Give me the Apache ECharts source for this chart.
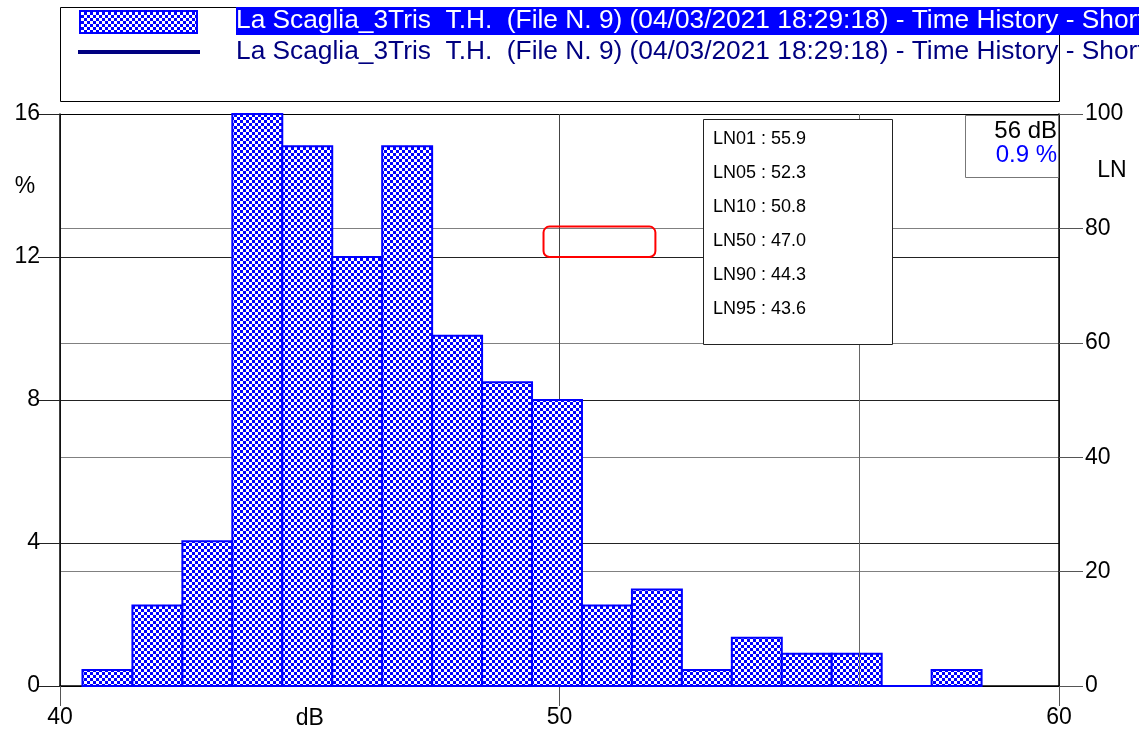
<!DOCTYPE html>
<html>
<head>
<meta charset="utf-8">
<script src="https://cdn.jsdelivr.net/npm/echarts@6/dist/echarts.min.js"></script>
<style>
  html, body { margin: 0; padding: 0; background: #fff; }
  #chart { width: 1139px; height: 731px; }
</style>
</head>
<body>
<div id="chart"></div>
<script>
// Level distribution (histogram of short Leq values, 1 dB classes)
const seriesName = 'La Scaglia_3Tris  T.H.  (File N. 9) (04/03/2021 18:29:18) - Time History - Short';
const classStart = [40.45, 41.45, 42.45, 43.45, 44.45, 45.45, 46.45, 47.45, 48.45,
                    49.45, 50.45, 51.45, 52.45, 53.45, 54.45, 55.45, 56.45, 57.45];
const classPercent = [0.45, 2.25, 4.05, 16.0, 15.1, 12.0, 15.1, 9.8, 8.5,
                      8.0, 2.25, 2.7, 0.45, 1.35, 0.9, 0.9, 0, 0.45];
const classWidth = 1;

// Axis ranges
const dbTicks = [40, 50, 60];
const percentTicks = [0, 4, 8, 12, 16];
const lnTicks = [0, 20, 40, 60, 80, 100];

// Percentile levels
const lnNames = ['LN01', 'LN05', 'LN10', 'LN50', 'LN90', 'LN95'];
const lnLevels = [55.9, 52.3, 50.8, 47.0, 44.3, 43.6];

// Cursor readout
const cursorDb = 56;
const cursorPercent = 0.9;

const FONT = '"Liberation Sans", Arial, sans-serif';

// Checkerboard fill for the bars
function checker() {
  const c = document.createElement('canvas');
  c.width = 6; c.height = 6;
  const g = c.getContext('2d');
  g.fillStyle = '#ffffff'; g.fillRect(0, 0, 6, 6);
  g.fillStyle = '#0000ff';
  g.fillRect(0, 0, 3, 3);
  g.fillRect(3, 3, 3, 3);
  return c;
}
const pattern = { type: 'pattern', image: checker(), repeat: 'repeat' };

const chart = echarts.init(document.getElementById('chart'), null, { renderer: 'canvas' });

const histData = classStart.map((s, i) => [s, s + classWidth, classPercent[i]]);

chart.setOption({
  animation: false,
  backgroundColor: '#ffffff',
  textStyle: { fontFamily: FONT },
  grid: { left: 60, right: 80, top: 114, bottom: 45, containLabel: false },
  xAxis: {
    type: 'value',
    min: dbTicks[0], max: dbTicks[dbTicks.length - 1], interval: dbTicks[1] - dbTicks[0],
    axisLine: { show: true, onZero: false, lineStyle: { color: '#000', width: 1.5 } },
    axisTick: { show: true, inside: false, length: 20, lineStyle: { color: '#555', width: 1 } },
    axisLabel: { color: '#000', fontSize: 23, margin: 20, fontFamily: FONT },
    splitLine: { show: true, lineStyle: { color: '#444', width: 1 } }
  },
  yAxis: [
    {
      type: 'value', position: 'left',
      min: percentTicks[0], max: percentTicks[percentTicks.length - 1],
      interval: percentTicks[1] - percentTicks[0],
      axisLine: { show: true, lineStyle: { color: '#000', width: 1.5 } },
      axisTick: { show: true, inside: false, length: 22, lineStyle: { color: '#222', width: 1 } },
      axisLabel: { color: '#000', fontSize: 23, margin: 20, fontFamily: FONT },
      splitLine: { show: true, lineStyle: { color: '#222', width: 1 } }
    },
    {
      type: 'value', position: 'right',
      min: lnTicks[0], max: lnTicks[lnTicks.length - 1], interval: lnTicks[1] - lnTicks[0],
      axisLine: { show: true, lineStyle: { color: '#000', width: 1.5 } },
      axisTick: { show: true, inside: false, length: 24, lineStyle: { color: '#555', width: 1 } },
      axisLabel: { color: '#000', fontSize: 23, margin: 26, fontFamily: FONT },
      splitLine: { show: true, lineStyle: { color: ['#000', '#808080', '#808080', '#808080', '#808080', '#000'], width: 1 } }
    }
  ],
  series: [
    {
      name: seriesName,
      type: 'custom',
      xAxisIndex: 0, yAxisIndex: 0,
      z: 3,
      data: histData,
      renderItem: function (params, api) {
        const lo = api.value(0), hi = api.value(1), v = api.value(2);
        const p0 = api.coord([lo, 0]);
        const p1 = api.coord([hi, v]);
        return {
          type: 'rect',
          shape: { x: p0[0], y: p1[1], width: p1[0] - p0[0], height: p0[1] - p1[1] },
          style: { fill: pattern, stroke: '#0000ff', lineWidth: 2 }
        };
      },
      markLine: {
        silent: true, symbol: 'none', label: { show: false },
        lineStyle: { color: '#666', width: 1, type: 'solid' },
        data: [{ xAxis: cursorDb }]
      }
    }
  ]
});

// Overlay: legend, axis names, percentile box, cursor readout
function overlay() {
  const dbPos = chart.convertToPixel({ xAxisIndex: 0 }, 45);
  const boxA = chart.convertToPixel({ xAxisIndex: 0, yAxisIndex: 0 }, [49.68, 12.85]);
  const boxB = chart.convertToPixel({ xAxisIndex: 0, yAxisIndex: 0 }, [51.92, 12.0]);
  const graphics = [
    // legend frame
    { type: 'rect', shape: { x: 60.5, y: 7.5, width: 999, height: 94 }, style: { fill: 'none', stroke: '#000', lineWidth: 1 }, z: 10 },
    { type: 'rect', shape: { x: 236, y: 7, width: 903, height: 28 }, style: { fill: '#0000ff' }, z: 11 },
    { type: 'rect', shape: { x: 80, y: 11, width: 117, height: 22 }, style: { fill: pattern, stroke: '#0000ff', lineWidth: 2 }, z: 11 },
    { type: 'text', x: 236, y: 21, style: { text: seriesName, fill: '#ffffff', font: '26.3px ' + FONT, textVerticalAlign: 'middle' }, z: 12 },
    { type: 'line', shape: { x1: 78, y1: 52, x2: 200, y2: 52 }, style: { stroke: '#000080', lineWidth: 4 }, z: 11 },
    { type: 'text', x: 236, y: 52, style: { text: seriesName, fill: '#000080', font: '26.3px ' + FONT, textVerticalAlign: 'middle' }, z: 12 },
    // axis names
    { type: 'text', x: 25, y: 187, style: { text: '%', fill: '#000', font: '23px ' + FONT, textAlign: 'center', textVerticalAlign: 'middle' }, z: 12 },
    { type: 'text', x: 1112, y: 171, style: { text: 'LN', fill: '#000', font: '23px ' + FONT, textAlign: 'center', textVerticalAlign: 'middle' }, z: 12 },
    { type: 'text', x: dbPos, y: 719, style: { text: 'dB', fill: '#000', font: '23px ' + FONT, textAlign: 'center', textVerticalAlign: 'middle' }, z: 12 },
    // percentile box
    { type: 'rect', shape: { x: 703.5, y: 119.5, width: 189, height: 225 }, style: { fill: '#ffffff', stroke: '#222', lineWidth: 1 }, z: 12 },
    // cursor readout box
    { type: 'rect', shape: { x: 965.5, y: 115.5, width: 93, height: 62 }, style: { fill: '#ffffff', stroke: '#777', lineWidth: 1 }, z: 12 },
    { type: 'text', x: 1057, y: 131, style: { text: cursorDb + ' dB', fill: '#000', font: '24px ' + FONT, textAlign: 'right', textVerticalAlign: 'middle' }, z: 13 },
    { type: 'text', x: 1057, y: 155, style: { text: cursorPercent.toFixed(1) + ' %', fill: '#0000ff', font: '24px ' + FONT, textAlign: 'right', textVerticalAlign: 'middle' }, z: 13 },
    // highlight frame
    { type: 'rect', shape: { x: boxA[0], y: boxA[1], width: boxB[0] - boxA[0], height: boxB[1] - boxA[1], r: 6 }, style: { fill: 'none', stroke: '#ff0000', lineWidth: 2 }, z: 12 }
  ];
  lnNames.forEach((n, i) => {
    graphics.push({
      type: 'text', x: 713, y: 139 + i * 34,
      style: { text: n + ' : ' + lnLevels[i].toFixed(1), fill: '#000', font: '18px ' + FONT, textVerticalAlign: 'middle' },
      z: 13
    });
  });
  chart.setOption({ graphic: graphics });
}
overlay();
</script>
</body>
</html>
